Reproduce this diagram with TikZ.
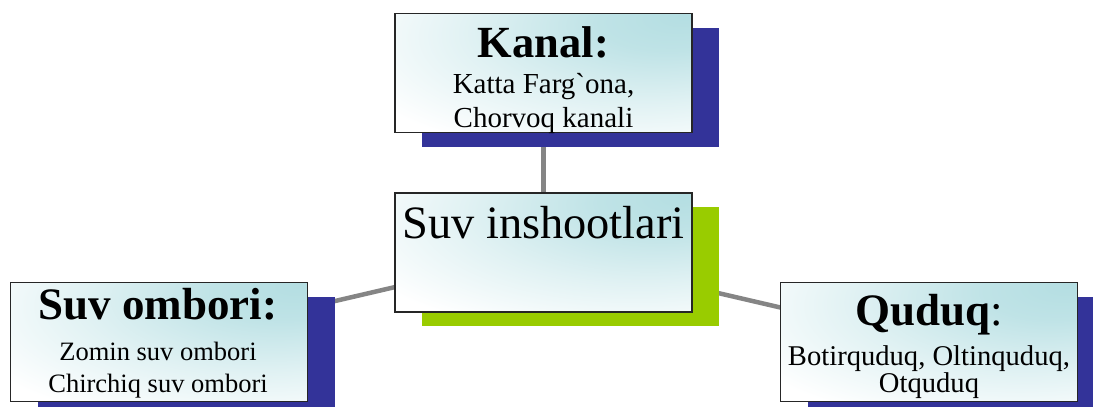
\documentclass[tikz,border=0pt]{standalone}
\usepackage{fontspec}
\setmainfont{Liberation Serif}[Ligatures=TeXOff]
\definecolor{shadeblue}{HTML}{333399}
\definecolor{shadegreen}{HTML}{99CC00}
\definecolor{lightcy}{HTML}{B4DEE2}
\definecolor{linkgray}{HTML}{858585}
\pgfdeclareradialshading{boxglow}{\pgfpoint{24bp}{24bp}}{%
  color(0bp)=(lightcy); color(12bp)=(lightcy!85!white); color(30bp)=(lightcy!40!white);
  color(48bp)=(white); color(100bp)=(white)}
\begin{document}
\begin{tikzpicture}[x=1pt,y=-1pt,
  box/.style={draw=black!85,line width=1.6pt,minimum width=297pt,minimum height=119pt,
    inner sep=0pt,outer sep=0pt,shading=boxglow},
  shadowbox/.style={minimum width=297pt,minimum height=119pt,inner sep=0pt,outer sep=0pt},
  link/.style={draw=linkgray,line width=4.5pt},
  txt/.style={anchor=base,inner sep=0pt,outer sep=0pt}]
\clip (0,0) rectangle (1093,407);
\useasboundingbox (0,0) rectangle (1093,407);
% box centres
\coordinate (ck) at (543.5,73);
\coordinate (cc) at (543.5,252.5);
\coordinate (cl) at (159,342);
\coordinate (cr) at (929,342);
% connectors (behind)
\draw[link] (cc) -- (ck);
\draw[link] (cc) -- (cl);
\draw[link] (cc) -- (cr);
% shadows
\node[shadowbox,fill=shadeblue] (sk) at ([shift={(27,14)}]ck) {};
\node[shadowbox,fill=shadegreen] (sc) at ([shift={(27,14)}]cc) {};
\node[shadowbox,fill=shadeblue] (sl) at ([shift={(27,14)}]cl) {};
\node[shadowbox,fill=shadeblue] (sr) at ([shift={(27,14)}]cr) {};
% boxes
\node[box] (kanal) at (ck) {};
\node[box] (center) at (cc) {};
\node[box] (ombor) at (cl) {};
\node[box] (quduq) at (cr) {};
% texts
\node[txt,font=\fontsize{44.5}{50}\selectfont\bfseries] (kt) at (543.5,57) {Kanal:};
\node[txt,font=\fontsize{29}{33}\selectfont] (k1) at (543.5,93) {Katta Farg`ona,};
\node[txt,font=\fontsize{29}{33}\selectfont] (k2) at (543.5,127) {Chorvoq kanali};
\node[txt,font=\fontsize{46.4}{52}\selectfont] (ct) at (543.5,238) {Suv inshootlari};
\node[txt,font=\fontsize{45}{50}\selectfont\bfseries] (lt) at (158,319) {Suv ombori:};
\node[txt,font=\fontsize{26.5}{30}\selectfont] (l1) at (158,360) {Zomin suv ombori};
\node[txt,font=\fontsize{26.5}{30}\selectfont] (l2) at (158,392) {Chirchiq suv ombori};
\node[txt,font=\fontsize{45}{50}\selectfont] (rt) at (929,325) {\textbf{Quduq}:};
\node[txt,font=\fontsize{28.6}{33}\selectfont] (r1) at (929,365) {Botirquduq, Oltinquduq,};
\node[txt,font=\fontsize{28.6}{33}\selectfont] (r2) at (929,392) {Otquduq};
\end{tikzpicture}
\end{document}
